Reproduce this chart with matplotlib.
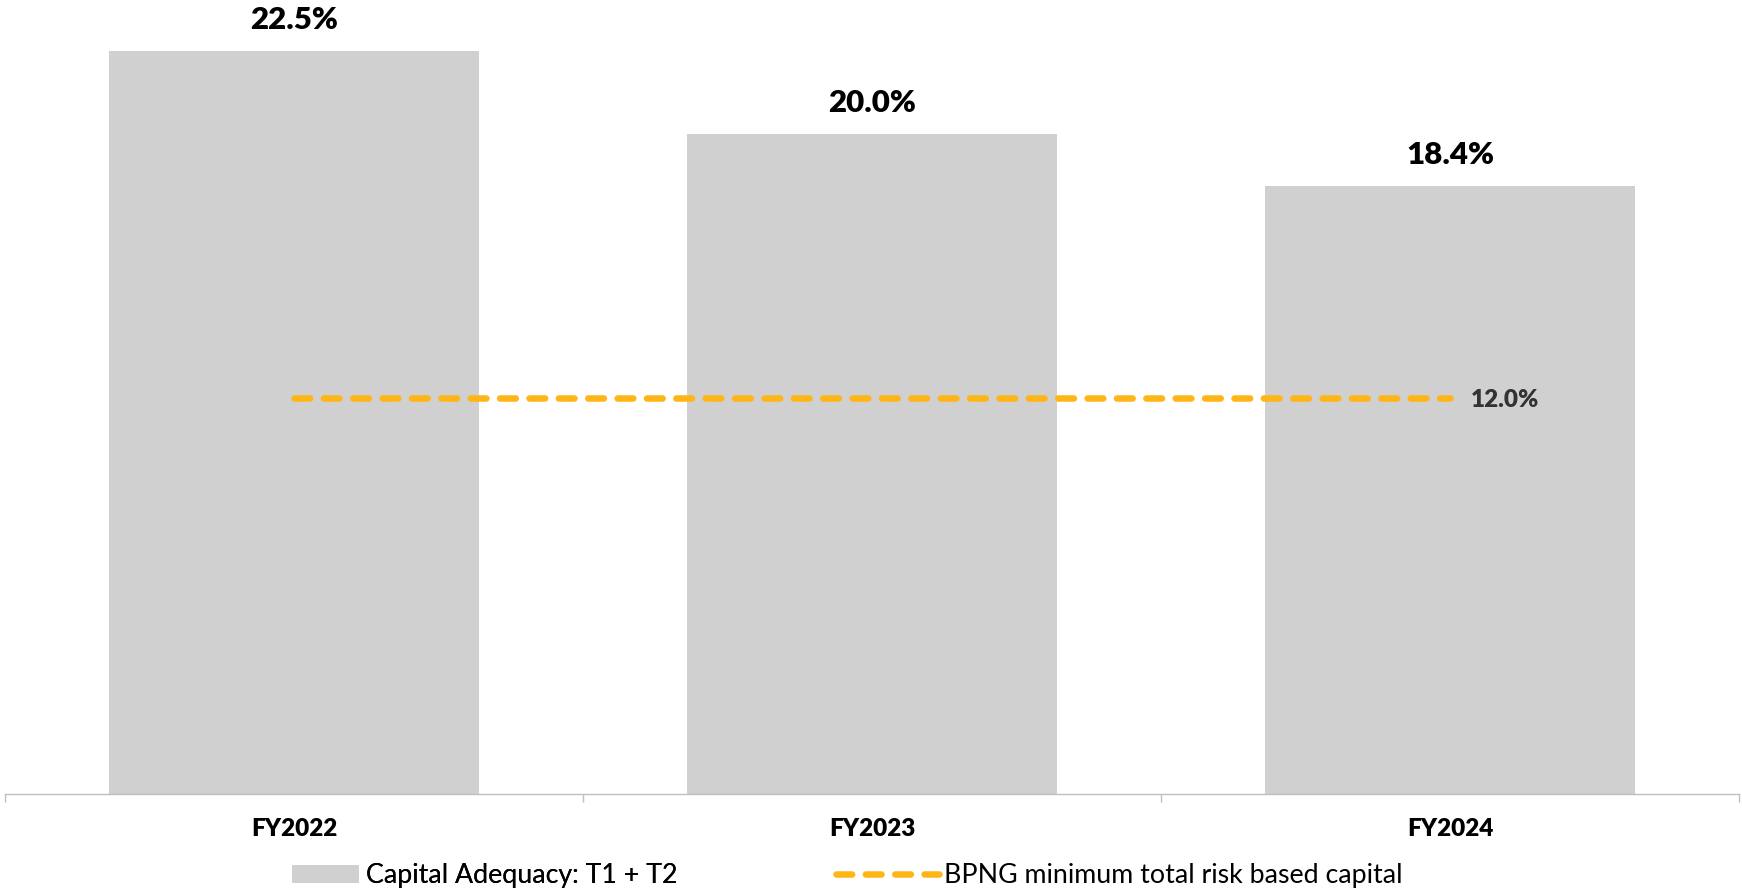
import matplotlib.pyplot as plt
from matplotlib.patches import Patch
from matplotlib.lines import Line2D

categories = ["FY2022", "FY2023", "FY2024"]
capital_adequacy = [22.5, 20.0, 18.4]
bpng_minimum = [12.0, 12.0, 12.0]

bar_label = "Capital Adequacy: T1 + T2"
line_label = "BPNG minimum total risk based capital"

bar_color = "#D0D0D0"
line_color = "#FFB515"

plt.rcParams["font.family"] = ["Lato", "DejaVu Sans"]

fig = plt.figure(figsize=(17.42, 8.92), dpi=100)
ax = fig.add_axes([0.003, 0.1099, 0.9953, 0.8885])

x = list(range(len(categories)))
ax.bar(x, capital_adequacy, width=0.64, color=bar_color, zorder=1)
ax.plot(x, bpng_minimum, color=line_color, lw=4.7, dashes=(2.4, 2.1),
        dash_capstyle="round", zorder=2)

for xi, v in zip(x, capital_adequacy):
    ax.annotate(f"{v:.1f}%", (xi, v), xytext=(0, 15.8), textcoords="offset points",
                ha="center", va="baseline", fontsize=22.5, fontweight="heavy", color="black")

ax.annotate(f"{bpng_minimum[-1]:.1f}%", (x[-1], bpng_minimum[-1]), xytext=(15, 0),
            textcoords="offset points", ha="left", va="center_baseline",
            fontsize=17.5, fontweight="heavy", color="#333333")

ax.set_xlim(-0.5, len(categories) - 0.5)
ax.set_ylim(0, 24)
ax.set_xticks(x)
ax.set_xticklabels(categories, fontsize=17.5, fontweight="heavy")
ax.set_xticks([i - 0.5 for i in range(len(categories) + 1)], minor=True)
ax.tick_params(axis="x", which="major", length=0, pad=17)
ax.tick_params(axis="x", which="minor", length=6, width=1, color="#BFBFBF", direction="out")
ax.set_yticks([])
for s in ["left", "right", "top"]:
    ax.spines[s].set_visible(False)
ax.spines["bottom"].set_color("#BFBFBF")
ax.spines["bottom"].set_linewidth(1)

leg_y = (892 - 876) / 892
h1 = Patch(facecolor=bar_color, edgecolor="none")
leg1 = fig.legend([h1], [bar_label], loc="center left", bbox_to_anchor=(292 / 1742, leg_y),
                  frameon=False, fontsize=19.3, handlelength=2.5, handleheight=0.67,
                  handletextpad=0.25, borderpad=0, borderaxespad=0)
h2 = Line2D([0], [0], color=line_color, lw=4.7, dashes=(2.4, 2.1), dash_capstyle="round")
leg2 = fig.legend([h2], [line_label], loc="center left", bbox_to_anchor=(836 / 1742, leg_y),
                  frameon=False, fontsize=19.3, handlelength=3.84,
                  handletextpad=0.19, borderpad=0, borderaxespad=0)
fig.add_artist(leg1)

fig.savefig("out.png", dpi=100)
